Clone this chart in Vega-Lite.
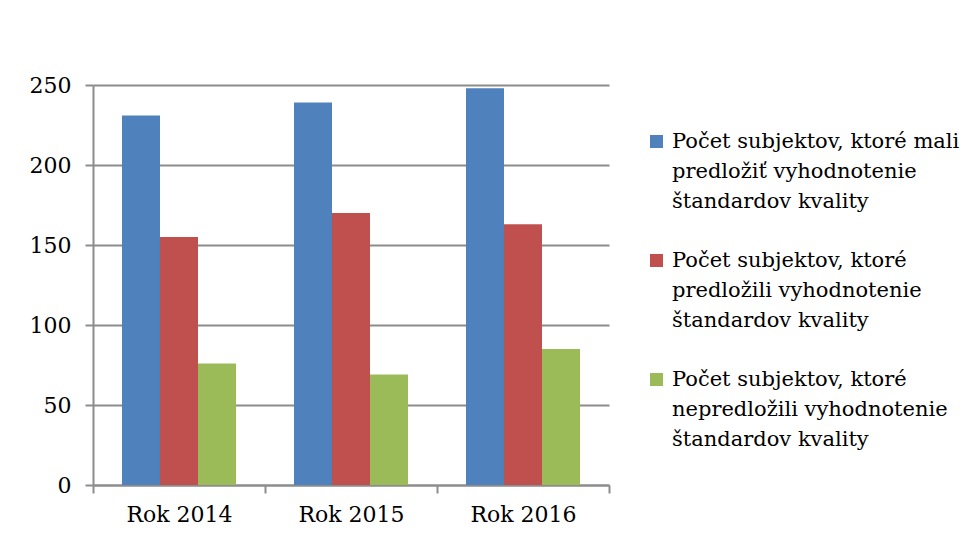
{
  "$schema": "https://vega.github.io/schema/vega-lite/v6.json",
  "width": 516,
  "height": 400,
  "autosize": {"type": "none"},
  "padding": {"left": 93, "top": 85, "right": 370, "bottom": 50},
  "background": "white",
  "config": {
    "view": {"stroke": null},
    "font": "DejaVu Serif",
    "style": {"guide-label": {"lineHeight": 30}}
  },
  "data": {
    "values": [
      {"year": "Rok 2014", "series": "Počet subjektov, ktoré mali predložiť vyhodnotenie štandardov kvality", "value": 231},
      {"year": "Rok 2014", "series": "Počet subjektov, ktoré predložili vyhodnotenie štandardov kvality", "value": 155},
      {"year": "Rok 2014", "series": "Počet subjektov, ktoré nepredložili vyhodnotenie štandardov kvality", "value": 76},
      {"year": "Rok 2015", "series": "Počet subjektov, ktoré mali predložiť vyhodnotenie štandardov kvality", "value": 239},
      {"year": "Rok 2015", "series": "Počet subjektov, ktoré predložili vyhodnotenie štandardov kvality", "value": 170},
      {"year": "Rok 2015", "series": "Počet subjektov, ktoré nepredložili vyhodnotenie štandardov kvality", "value": 69},
      {"year": "Rok 2016", "series": "Počet subjektov, ktoré mali predložiť vyhodnotenie štandardov kvality", "value": 248},
      {"year": "Rok 2016", "series": "Počet subjektov, ktoré predložili vyhodnotenie štandardov kvality", "value": 163},
      {"year": "Rok 2016", "series": "Počet subjektov, ktoré nepredložili vyhodnotenie štandardov kvality", "value": 85}
    ]
  },
  "mark": {"type": "bar"},
  "encoding": {
    "x": {
      "field": "year",
      "type": "nominal",
      "scale": {"paddingInner": 0, "paddingOuter": 0},
      "axis": {
        "title": null,
        "labelAngle": 0,
        "tickBand": "extent",
        "labelFont": "DejaVu Serif",
        "labelFontSize": 22,
        "labelColor": "black",
        "labelPadding": 11,
        "tickSize": 8,
        "tickColor": "#8c8c8c",
        "tickWidth": 2,
        "domainColor": "#8c8c8c",
        "domainWidth": 2
      }
    },
    "xOffset": {
      "field": "series",
      "type": "nominal",
      "sort": [
        "Počet subjektov, ktoré mali predložiť vyhodnotenie štandardov kvality",
        "Počet subjektov, ktoré predložili vyhodnotenie štandardov kvality",
        "Počet subjektov, ktoré nepredložili vyhodnotenie štandardov kvality"
      ],
      "scale": {"paddingInner": 0, "paddingOuter": 0.763}
    },
    "y": {
      "field": "value",
      "type": "quantitative",
      "scale": {"domain": [0, 250]},
      "axis": {
        "title": null,
        "values": [0, 50, 100, 150, 200, 250],
        "grid": true,
        "gridColor": "#8c8c8c",
        "gridWidth": 2,
        "labelFont": "DejaVu Serif",
        "labelFontSize": 22,
        "labelColor": "black",
        "labelPadding": 14,
        "tickSize": 8,
        "tickColor": "#8c8c8c",
        "tickWidth": 2,
        "domainColor": "#8c8c8c",
        "domainWidth": 2
      }
    },
    "color": {
      "field": "series",
      "type": "nominal",
      "scale": {
        "domain": [
          "Počet subjektov, ktoré mali predložiť vyhodnotenie štandardov kvality",
          "Počet subjektov, ktoré predložili vyhodnotenie štandardov kvality",
          "Počet subjektov, ktoré nepredložili vyhodnotenie štandardov kvality"
        ],
        "range": ["#4F81BD", "#C0504D", "#9BBB59"]
      },
      "legend": {
        "title": null,
        "orient": "none",
        "legendX": 553,
        "legendY": 46,
        "symbolType": "square",
        "symbolSize": 169,
        "symbolStrokeWidth": 0,
        "labelFont": "DejaVu Serif",
        "labelFontSize": 21,
        "labelColor": "black",
        "labelOffset": 5,
        "labelLimit": 400,
        "rowPadding": 37,
        "labelExpr": "datum.label == 'Počet subjektov, ktoré mali predložiť vyhodnotenie štandardov kvality' ? ['Počet subjektov, ktoré mali', 'predložiť vyhodnotenie', 'štandardov kvality'] : datum.label == 'Počet subjektov, ktoré predložili vyhodnotenie štandardov kvality' ? ['Počet subjektov, ktoré', 'predložili vyhodnotenie', 'štandardov kvality'] : ['Počet subjektov, ktoré', 'nepredložili vyhodnotenie', 'štandardov kvality']"
      }
    }
  }
}
